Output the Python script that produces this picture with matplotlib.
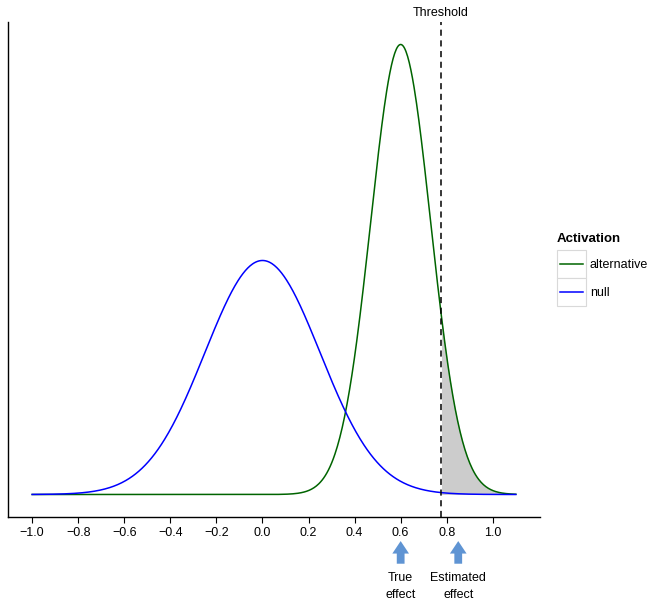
import numpy as np
import matplotlib.pyplot as plt
from matplotlib.patches import Rectangle
from matplotlib.lines import Line2D

plt.rcParams['font.family'] = ['Liberation Sans', 'DejaVu Sans']

# distribution parameters
null_mean, null_sd = 0.0, 0.25
alt_mean, alt_sd = 0.6, 0.13
threshold = 0.775
x_min, x_max = -1.0, 1.1
true_effect = 0.6
estimated_effect = 0.85
xticks = [-1.0, -0.8, -0.6, -0.4, -0.2, 0.0, 0.2, 0.4, 0.6, 0.8, 1.0]
series = [('alternative', '#006400'), ('null', '#0000ff')]


def dens(x, m, s):
    return np.exp(-(x - m) ** 2 / (2 * s ** 2)) / (s * np.sqrt(2 * np.pi))


x = np.linspace(x_min, x_max, 600)
y_null = dens(x, null_mean, null_sd)
y_alt = dens(x, alt_mean, alt_sd)

W, H = 653, 604
fig = plt.figure(figsize=(W / 100, H / 100), dpi=100)
ax = fig.add_axes([8 / W, 1 - 517 / H, 532 / W, 495 / H])

mask = x >= threshold
ax.fill_between(x[mask], 0, y_alt[mask], color='#cccccc', lw=0)
ax.plot(x, y_alt, color=series[0][1], lw=1.1)
ax.plot(x, y_null, color=series[1][1], lw=1.1)
ax.axvline(threshold, color='black', ls=(0, (4, 3)), lw=1.1)

span = x_max - x_min
ax.set_xlim(x_min - 0.05 * span, x_max + 0.05 * span)
top = y_alt.max()
ax.set_ylim(-0.05 * top, 1.05 * top)
ax.set_xticks(xticks)
ax.set_xticklabels([('%.1f' % t).replace('-', '\u2212') for t in xticks])
ax.set_yticks([])
ax.tick_params(axis='x', labelsize=9, length=4, width=0.8, pad=3)
for s in ['top', 'right']:
    ax.spines[s].set_visible(False)
for s in ['left', 'bottom']:
    ax.spines[s].set_linewidth(1.0)

ax.text(threshold, 1.07 * top, 'Threshold', ha='center', va='center', fontsize=9, clip_on=False)

for xe, lab in [(true_effect, 'True\neffect'), (estimated_effect, 'Estimated\neffect')]:
    ax.annotate('', xy=(xe, -0.043), xycoords=('data', 'axes fraction'),
                xytext=(xe, -0.1), textcoords=('data', 'axes fraction'),
                arrowprops=dict(arrowstyle='simple,head_length=0.45,head_width=0.6,tail_width=0.28',
                                mutation_scale=20, color='#5f94d3', lw=0))
    ax.text(xe, -0.14, lab, transform=ax.get_xaxis_transform(), ha='center', va='center',
            fontsize=9, linespacing=1.5)

# legend drawn by hand to get the boxed keys
fig.text(557 / W, 1 - 239 / H, 'Activation', fontsize=9.5, fontweight='bold', va='center')
for i, (name, col) in enumerate(series):
    y0 = 250 + 28 * i
    fig.add_artist(Rectangle((557 / W, 1 - (y0 + 28) / H), 29 / W, 28 / H, transform=fig.transFigure,
                             facecolor='white', edgecolor='#d9d9d9', lw=0.8))
    fig.add_artist(Line2D([560 / W, 583 / W], [1 - (y0 + 14) / H] * 2, transform=fig.transFigure,
                          color=col, lw=1.1))
    fig.text(590 / W, 1 - (y0 + 15) / H, name, fontsize=9, va='center')

fig.savefig('out.png', dpi=100)
